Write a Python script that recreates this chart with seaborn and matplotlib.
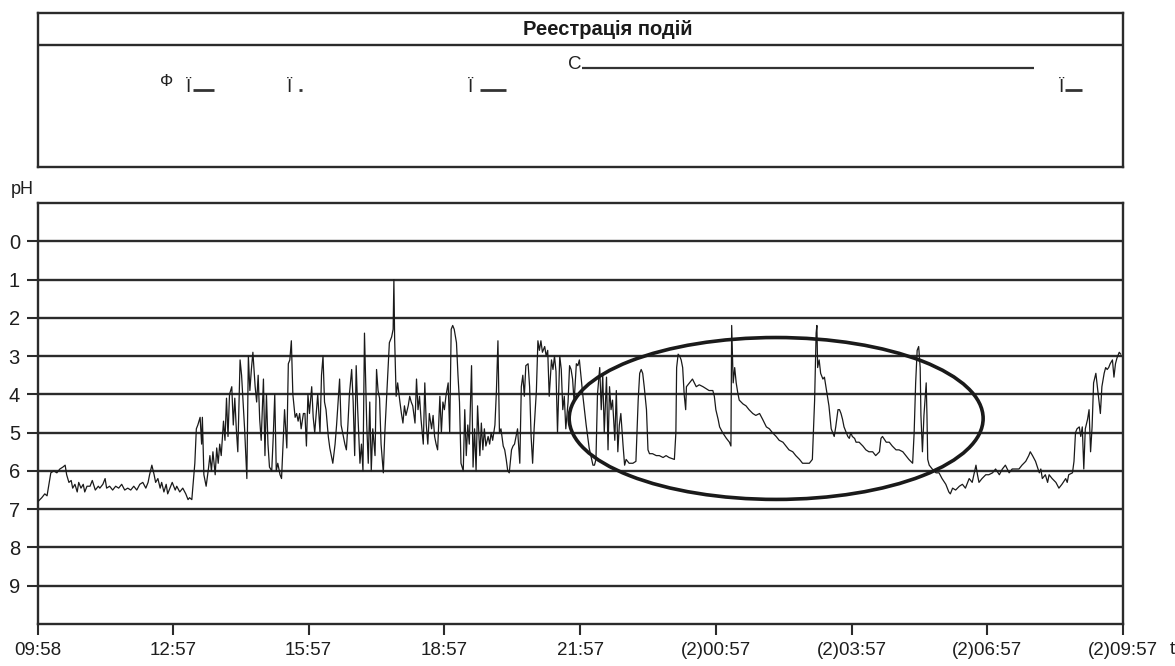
import numpy as np
import pandas as pd
import matplotlib
matplotlib.use("Agg")
import matplotlib.pyplot as plt
from matplotlib.patches import Ellipse
import seaborn as sns

# ---------------- data (time in minutes after 09:58, pH) ----------------
t_a = [0, 5, 9, 12, 15, 17, 21, 25, 29, 33,
       36, 38, 41, 44, 46, 49, 52, 54, 57, 60,
       62, 65, 69, 72, 76, 80, 82, 86, 89, 91,
       95, 99, 103, 107, 111, 115, 119, 123, 127, 131,
       135, 139, 143, 146, 148, 151, 154, 156, 159, 162,
       164, 167, 170, 172, 175, 178, 182, 184, 188, 192,
       196, 199, 201, 204]
ph_a = [6.8, 6.7, 6.6, 6.65, 6.3, 6.05, 6.0, 6.05, 5.95, 5.9,
        5.85, 6.1, 6.3, 6.25, 6.45, 6.35, 6.55, 6.3, 6.45, 6.35,
        6.55, 6.4, 6.4, 6.25, 6.5, 6.4, 6.45, 6.35, 6.2, 6.45,
        6.4, 6.5, 6.4, 6.45, 6.35, 6.5, 6.45, 6.5, 6.4, 6.5,
        6.35, 6.3, 6.45, 6.3, 6.1, 5.85, 6.1, 6.3, 6.2, 6.45,
        6.3, 6.55, 6.35, 6.6, 6.45, 6.3, 6.5, 6.4, 6.55, 6.45,
        6.6, 6.75, 6.7, 6.75]

t_b = [208, 210, 212, 215, 217, 218, 220, 223, 226, 228,
       230, 232, 235, 237, 239, 241, 243, 246, 248, 250,
       252, 254, 257, 259, 261, 263, 265, 268, 270, 272,
       274, 277, 279, 281, 283, 285, 288, 290, 292, 294,
       296, 299, 301, 303, 305, 307, 310, 312, 314, 316,
       318, 321, 323, 325, 327, 330, 332, 334, 336, 338,
       341, 343, 345, 347, 349, 352, 354, 356, 358, 360,
       363, 365, 367, 369, 371, 374, 376, 378, 380]
ph_b = [5.8, 4.9, 4.8, 4.6, 5.3, 4.6, 6.1, 6.4, 5.95, 5.6,
        6.0, 5.5, 6.1, 5.4, 5.8, 5.3, 5.6, 4.7, 5.2, 4.1,
        5.1, 4.0, 3.8, 4.8, 4.1, 4.9, 5.5, 3.1, 3.5, 4.2,
        4.9, 6.2, 3.0, 3.9, 3.35, 2.9, 3.8, 4.2, 3.5, 4.65,
        5.2, 3.6, 5.6, 4.0, 5.3, 5.9, 6.0, 5.1, 4.0, 6.0,
        5.8, 6.1, 6.2, 5.3, 4.4, 5.4, 3.2, 3.1, 2.6, 4.0,
        4.6, 4.5, 4.7, 4.5, 4.9, 4.5, 4.5, 5.35, 4.0, 4.5,
        3.8, 4.6, 5.0, 4.5, 4.0, 5.0, 3.5, 3.0, 4.2]

t_c = [382, 385, 387, 389, 391, 394, 396, 398, 400, 402,
       405, 407, 409, 411, 413, 416, 418, 420, 422, 424,
       427, 429, 431, 433, 436, 438, 440, 442, 444, 447,
       449, 451, 453, 455, 458, 460, 462, 464, 466, 469,
       471, 472, 473, 475, 477, 480, 482, 484, 486, 488,
       491, 493, 495, 497, 500, 502, 504, 506, 508, 511,
       513, 515, 517, 519, 522, 524, 526, 528, 530, 533,
       535, 537, 539, 541, 544, 546, 548, 550, 552, 555,
       557, 559]
ph_c = [4.4, 5.1, 5.4, 5.6, 5.8, 5.3, 4.8, 4.2, 3.6, 4.8,
        5.1, 5.3, 5.45, 4.8, 4.0, 3.35, 4.2, 5.6, 3.25, 4.4,
        5.8, 5.3, 6.0, 2.4, 4.8, 5.8, 4.2, 6.0, 4.9, 5.6,
        3.35, 3.9, 4.1, 5.3, 6.05, 5.0, 4.2, 3.4, 2.65, 2.5,
        2.3, 1.0, 2.55, 4.05, 3.7, 4.2, 4.5, 4.75, 4.3, 4.55,
        4.3, 4.05, 4.2, 4.3, 4.75, 3.6, 4.4, 4.05, 4.65, 5.3,
        3.7, 4.8, 5.3, 4.5, 4.9, 4.55, 5.1, 5.3, 5.45, 4.05,
        5.0, 4.2, 4.4, 4.05, 3.7, 5.0, 2.3, 2.2, 2.3, 2.65,
        3.5, 4.2]

t_d = [561, 564, 566, 568, 570, 572, 575, 577, 579, 581,
       583, 586, 588, 590, 592, 594, 597, 599, 601, 603,
       606, 608, 610, 612, 614, 617, 619, 621, 623, 625,
       628, 630, 632, 634, 636, 639, 641, 643, 645, 647,
       650, 652, 654, 656, 658, 661, 663, 665, 667, 669,
       672, 674, 676, 678, 681, 683, 685, 687, 689, 692,
       694, 696, 698, 700, 703, 705, 707, 709, 711, 714,
       716, 718]
ph_d = [5.8, 6.0, 4.4, 5.6, 4.8, 5.3, 3.25, 5.9, 4.9, 6.0,
        4.3, 5.6, 4.75, 5.45, 4.9, 5.35, 5.1, 5.3, 5.0, 5.2,
        4.8, 3.9, 2.6, 5.0, 4.9, 5.35, 5.45, 5.7, 6.0, 6.05,
        5.45, 5.35, 5.3, 5.1, 4.9, 5.8, 3.8, 3.5, 4.05, 3.25,
        3.2, 3.8, 5.1, 5.8, 4.9, 3.9, 2.6, 2.85, 2.6, 2.9,
        2.75, 3.0, 2.85, 4.05, 3.1, 3.35, 3.0, 3.4, 5.0, 3.0,
        3.35, 4.4, 4.05, 4.9, 4.2, 3.25, 3.35, 3.6, 4.2, 3.2,
        3.25, 3.1]

t_e = [723, 727, 731, 736, 738, 740, 742, 745, 747, 749,
       751, 754, 756, 758, 760, 762, 765, 767, 769, 771,
       773, 776, 778, 780, 784, 789, 793, 796, 798, 800,
       802, 804, 807, 809, 811, 815, 820, 824, 829, 833,
       837, 844, 846, 847, 849, 851, 853, 855, 857, 859,
       860, 864, 868, 873, 877, 882, 886, 890, 895, 897,
       899, 902, 904, 908, 913, 917, 919, 920, 922, 924,
       926, 928, 930, 935, 939, 943, 948, 952, 957, 961,
       966, 970, 974, 979, 983, 988, 992, 996, 1001, 1005,
       1010, 1014, 1019, 1023, 1027, 1030, 1032, 1033, 1034, 1036,
       1038, 1041, 1043, 1045, 1047, 1049, 1052, 1054, 1056, 1058,
       1061, 1063, 1065, 1067, 1069, 1072, 1074, 1076, 1078, 1080,
       1083, 1085, 1089, 1094, 1098, 1102, 1107, 1111, 1116, 1118,
       1120, 1125, 1129, 1133, 1138, 1142, 1147, 1151, 1155, 1160,
       1162, 1164, 1166, 1168, 1170, 1171, 1173, 1175, 1178, 1179,
       1180, 1182]
ph_e = [4.1, 4.8, 5.4, 5.85, 5.85, 5.7, 4.0, 3.3, 4.4, 3.5,
        5.0, 3.55, 5.45, 3.8, 4.4, 4.15, 5.2, 3.9, 5.5, 4.8,
        4.5, 5.35, 5.85, 5.7, 5.8, 5.8, 5.75, 4.15, 3.45, 3.35,
        3.45, 3.8, 4.4, 5.45, 5.55, 5.55, 5.6, 5.6, 5.65, 5.6,
        5.65, 5.7, 5.0, 3.3, 2.95, 3.0, 3.1, 3.3, 4.0, 4.4,
        3.8, 3.7, 3.6, 3.8, 3.75, 3.8, 3.85, 3.9, 3.9, 4.05,
        4.4, 4.65, 4.85, 5.0, 5.15, 5.25, 5.35, 2.2, 3.7, 3.3,
        3.7, 3.95, 4.15, 4.25, 4.3, 4.4, 4.5, 4.55, 4.5, 4.65,
        4.85, 4.9, 5.0, 5.1, 5.2, 5.25, 5.35, 5.45, 5.5, 5.6,
        5.7, 5.8, 5.8, 5.8, 5.7, 4.15, 2.4, 2.2, 3.3, 3.1,
        3.45, 3.6, 3.55, 3.8, 4.05, 4.3, 4.9, 5.0, 5.1, 4.85,
        4.4, 4.4, 4.5, 4.65, 4.85, 5.0, 5.1, 5.15, 5.0, 5.1,
        5.15, 5.25, 5.25, 5.35, 5.45, 5.5, 5.5, 5.6, 5.5, 5.15,
        5.1, 5.25, 5.25, 5.35, 5.45, 5.45, 5.5, 5.6, 5.7, 5.8,
        5.0, 3.7, 2.85, 2.75, 3.3, 4.55, 5.5, 4.55, 3.7, 4.55,
        5.7, 5.85]

t_f = [1186, 1191, 1195, 1199, 1204, 1208, 1210, 1213, 1217, 1222,
       1226, 1230, 1235, 1239, 1244, 1246, 1248, 1252, 1257, 1261,
       1266, 1270, 1275, 1279, 1283, 1288, 1292, 1297, 1301, 1305,
       1310, 1314, 1316, 1319, 1323, 1328, 1330, 1332, 1336, 1339,
       1341, 1345, 1350, 1354, 1358, 1363, 1365, 1367, 1372, 1374,
       1376, 1378, 1381, 1383, 1385, 1387, 1389, 1392, 1394, 1396,
       1398, 1400, 1403, 1405, 1407, 1409, 1411, 1414, 1416, 1418,
       1420, 1422, 1425, 1427, 1429, 1431, 1434, 1436]
ph_f = [5.95, 6.05, 6.05, 6.2, 6.35, 6.55, 6.6, 6.45, 6.5, 6.4,
        6.35, 6.45, 6.2, 6.3, 5.85, 6.1, 6.3, 6.2, 6.1, 6.1,
        6.05, 5.95, 6.1, 5.95, 5.85, 6.05, 5.95, 5.95, 5.95, 5.85,
        5.75, 5.6, 5.5, 5.6, 5.75, 6.05, 5.95, 6.2, 6.1, 6.3,
        6.1, 6.2, 6.3, 6.45, 6.35, 6.2, 6.3, 6.1, 6.05, 5.75,
        5.0, 4.9, 4.85, 5.1, 4.85, 5.95, 4.9, 4.65, 4.4, 5.5,
        4.85, 3.7, 3.45, 3.8, 4.15, 4.5, 3.8, 3.45, 3.3, 3.35,
        3.3, 3.2, 3.1, 3.55, 3.2, 3.05, 2.9, 2.95]

tick_minutes = [0, 179, 359, 539, 719, 899, 1079, 1259, 1439]
tick_labels = ["09:58", "12:57", "15:57", "18:57", "21:57",
               "(2)00:57", "(2)03:57", "(2)06:57", "(2)09:57"]
ph_ticks = [0, 1, 2, 3, 4, 5, 6, 7, 8, 9]

event_labels = ["Ф", "Ї", "Ї", "Ї", "С", "Ї"]
event_times = [171, 200, 334, 574, 712, 1357]
event_line_start = [None, 205, 346, 586, 721, 1362]
event_line_end = [None, 233, 350, 621, 1321, 1385]

ellipse_center = (979, 4.63)
ellipse_size = (549, 4.23)

# ---------------- figure ----------------
sns.set_style("white")
plt.rcParams["font.family"] = ["Liberation Sans", "DejaVu Sans"]

W, H = 1175, 666
fig = plt.figure(figsize=(W / 100, H / 100), dpi=100)


def frac(l, t, r, b):
    return [l / W, 1 - b / H, (r - l) / W, (b - t) / H]


dark = "#2b2b2b"
ax_ev = fig.add_axes(frac(38, 13, 1123, 167))
ax = fig.add_axes(frac(38, 203, 1123, 624))

df = pd.DataFrame({
    "t": t_a + t_b + t_c + t_d + t_e + t_f,
    "ph": ph_a + ph_b + ph_c + ph_d + ph_e + ph_f,
})

sns.lineplot(data=df, x="t", y="ph", ax=ax, color="#1a1a1a", lw=0.9,
             estimator=None, sort=False, legend=False, zorder=3)

ax.set_xlim(0, 1439)
ax.set_ylim(10, -1)
ax.set_yticks(ph_ticks)
ax.set_yticklabels([str(v) for v in ph_ticks])
ax.set_xticks(tick_minutes)
ax.set_xticklabels(tick_labels)
ax.set_xlabel("")
ax.set_ylabel("")
ax.yaxis.grid(True, color=dark, lw=1.7)
ax.xaxis.grid(False)
ax.set_axisbelow(True)
for s in ax.spines.values():
    s.set_visible(True)
    s.set_color(dark)
    s.set_linewidth(1.7)
ax.tick_params(axis="y", left=True, length=8, width=1.5, pad=5,
               labelsize=14.5, color=dark, labelcolor="#1e1e1e")
ax.tick_params(axis="x", bottom=True, length=8, width=1.5, pad=5,
               labelsize=13.5, color=dark, labelcolor="#1e1e1e")

ax.add_patch(Ellipse(ellipse_center, ellipse_size[0], ellipse_size[1],
                     fill=False, lw=2.6, edgecolor="#1a1a1a", zorder=5))

fig.text(22 / W, 1 - 190 / H, "pH", ha="center", va="center",
         fontsize=13, color="#1e1e1e")
fig.text(1170 / W, 1 - 650 / H, "t", ha="left", va="center",
         fontsize=13.5, color="#1e1e1e")

# ---------------- event panel ----------------
ax_ev.set_xlim(0, 1439)
ax_ev.set_ylim(0, 1)
ax_ev.set_xticks([])
ax_ev.set_yticks([])
for s in ax_ev.spines.values():
    s.set_visible(True)
    s.set_color(dark)
    s.set_linewidth(1.7)
ax_ev.axhline(0.792, color=dark, lw=1.7)
ax_ev.text(0.525, 0.895, "Реестрація подій", transform=ax_ev.transAxes,
           ha="center", va="center", fontsize=14.5, fontweight="bold",
           color="#1a1a1a")

base_y = {"Ф": 0.525, "Ї": 0.49, "С": 0.635}
line_y = {"Ї": 0.50, "С": 0.643}
for lab, t0, ls, le in zip(event_labels, event_times,
                           event_line_start, event_line_end):
    ax_ev.text(t0, base_y[lab], lab, ha="center", va="baseline",
               fontsize=13.5 if lab != "Ф" else 12.5, color="#222222")
    if ls is not None:
        ax_ev.hlines(line_y[lab], ls, le, color="#333333",
                     lw=2.0 if lab == "Ї" else 1.6)

fig.savefig("out.png", dpi=100)
